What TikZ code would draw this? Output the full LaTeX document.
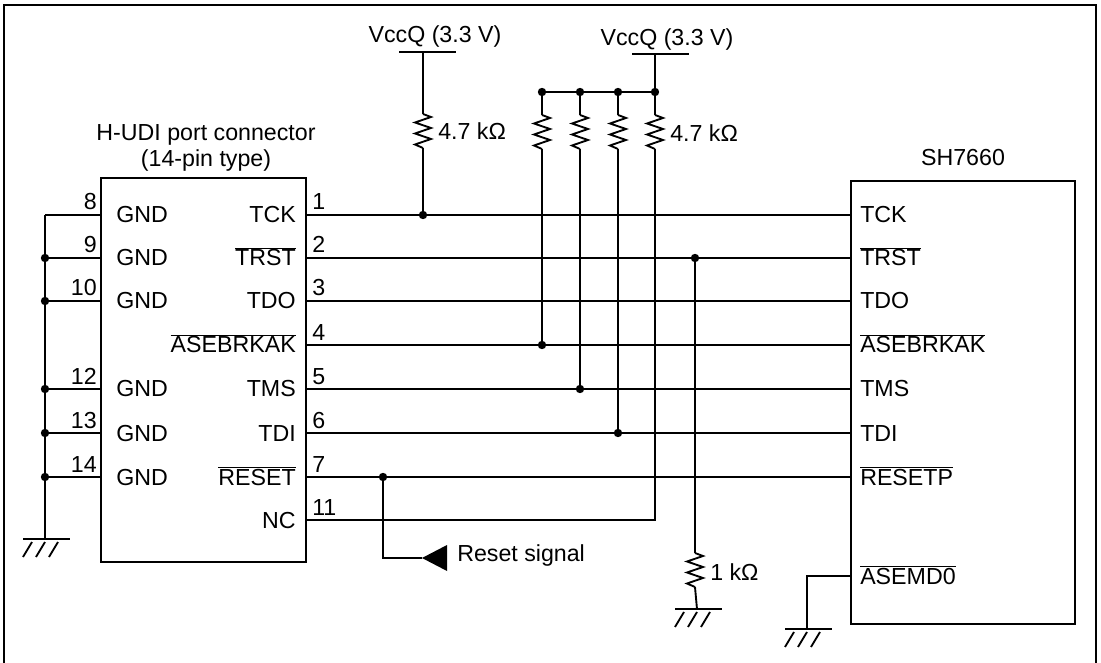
\documentclass[tikz,border=0pt]{standalone}
\usepackage{fontspec}
\setmainfont{Liberation Sans}
\usetikzlibrary{positioning}

\newcommand{\ovl}[1]{$\overline{\mbox{#1}}$}
% zigzag resistor hanging down from #1
\newcommand{\resistor}[1]{\draw[wire] (#1) -- ++(8,3) -- ++(-16,5.5) -- ++(16,5.5) -- ++(-16,5.5) -- ++(16,5.5) -- ++(-16,5.5) -- ++(8,3.5);}
% ground bar with hatches at #1
\newcommand{\ground}[1]{\draw[wire] (#1) ++(-22,0) -- ++(47,0);
  \foreach \h in {-22,-9,4} \draw[wire] (#1) ++(\h,18) -- ++(9,-15);}

\tikzset{
  wire/.style={line width=1.4pt},
  frame/.style={line width=1.9pt},
  jdot/.style={circle,fill,inner sep=0pt,minimum size=6.3pt},
  lbl/.style={inner sep=0pt,font=\fontsize{17.4}{20}\selectfont},
}

\begin{document}
\begin{tikzpicture}[x=0.75pt,y=0.75pt,yscale=-1,xscale=1]
\useasboundingbox (0,0) rectangle (1101,663);

% frame (open at the bottom)
\draw[frame] (4,663) -- (4,5) -- (1096,5) -- (1096,663);

% connector and SH7660 boxes
\draw[wire] (101,178) rectangle (306,562);
\draw[wire] (851,181) rectangle (1075,624);
\node[lbl, align=center] (hudi) at (206,148) {H-UDI port connector\\(14-pin type)};
\node[lbl, anchor=base] (sh) at (963,166) {SH7660};

% right-hand pins of the connector
\foreach \y/\n/\t in {215/1/TCK,258/2/\ovl{TRST},301/3/TDO,345/4/\ovl{ASEBRKAK},389/5/TMS,433/6/TDI,477/7/\ovl{RESET},520/11/NC} {
  \coordinate (p\n) at (306,\y);
  \node[lbl, anchor=base west] (n\n) at (312,\y-5) {\n};
  \node[lbl, anchor=base east] (t\n) at (296,\y+8) {\t};
}

% left-hand GND pins
\coordinate (gbus) at (45,215);
\foreach \y/\n in {215/8,258/9,301/10,389/12,433/13,477/14} {
  \coordinate (g\n) at (101,\y);
  \node[lbl, anchor=base east] (gn\n) at (97,\y-5) {\n};
  \node[lbl, anchor=base west] (gt\n) at (116,\y+8) {GND};
  \draw[wire] (g\n) -- (45,\y);
}
\foreach \y in {258,301,389,433,477} \node[jdot] at (45,\y) {};
\coordinate (gnd1) at (45,539);
\draw[wire] (gbus) -- (gnd1);
\ground{gnd1}

% SH7660 pins
\foreach \y/\n/\t in {215/1/TCK,258/2/\ovl{TRST},301/3/TDO,345/4/\ovl{ASEBRKAK},389/5/TMS,433/6/TDI,477/7/\ovl{RESETP}} {
  \coordinate (s\n) at (851,\y);
  \node[lbl, anchor=base west] (st\n) at (860,\y+8) {\t};
  \draw[wire] (p\n) -- (s\n);
}
\coordinate (smd) at (851,576);
\node[lbl, anchor=base west] (stmd) at (860,576+8) {\ovl{ASEMD0}};
\coordinate (gnd3) at (807,629);
\draw[wire] (smd) -| (gnd3);
\ground{gnd3}

% TCK pull-up
\node[lbl, anchor=base] (vcc1) at (435,43) {VccQ (3.3 V)};
\draw[wire] (399,52) -- (456,52);
\draw[wire] (423,52) -- (423,114);
\resistor{423,114}
\node[lbl, anchor=west] (r1) at (438,131) {4.7 kΩ};
\node[jdot] (j1) at (423,215) {};
\draw[wire] (423,148) -- (j1);

% pull-ups for ASEBRKAK, TMS, TDI and NC
\node[lbl, anchor=base] (vcc2) at (667,46) {VccQ (3.3 V)};
\draw[wire] (632,54) -- (689,54);
\draw[wire] (655,54) -- (655,92);
\draw[wire] (542,92) -- (655,92);
\foreach \x/\y/\n in {542/345/4,580/389/5,618/433/6} {
  \node[jdot] at (\x,92) {};
  \draw[wire] (\x,92) -- (\x,115);
  \resistor{\x,115}
  \node[jdot] (ju\n) at (\x,\y) {};
  \draw[wire] (\x,149) -- (ju\n);
}
\node[jdot] at (655,92) {};
\draw[wire] (655,92) -- (655,115);
\resistor{655,115}
\node[lbl, anchor=west] (r2) at (670,133) {4.7 kΩ};
\draw[wire] (655,149) -- (655,520) -- (p11);

% TRST pull-down
\node[jdot] (j2) at (695,258) {};
\draw[wire] (j2) -- (695,553);
\resistor{695,553}
\node[lbl, anchor=west] (r3) at (710,572) {1 kΩ};
\coordinate (gnd2) at (697,609);
\draw[wire] (695,587) -- (gnd2);
\ground{gnd2}

% reset signal
\node[jdot] (j3) at (383,477) {};
\coordinate (rst) at (422,558);
\draw[wire] (j3) |- (rst);
\fill (rst) -- (447,545) -- (447,571) -- cycle;
\node[lbl, anchor=west] (rsig) at (457,556) {Reset signal};

\end{tikzpicture}
\end{document}
